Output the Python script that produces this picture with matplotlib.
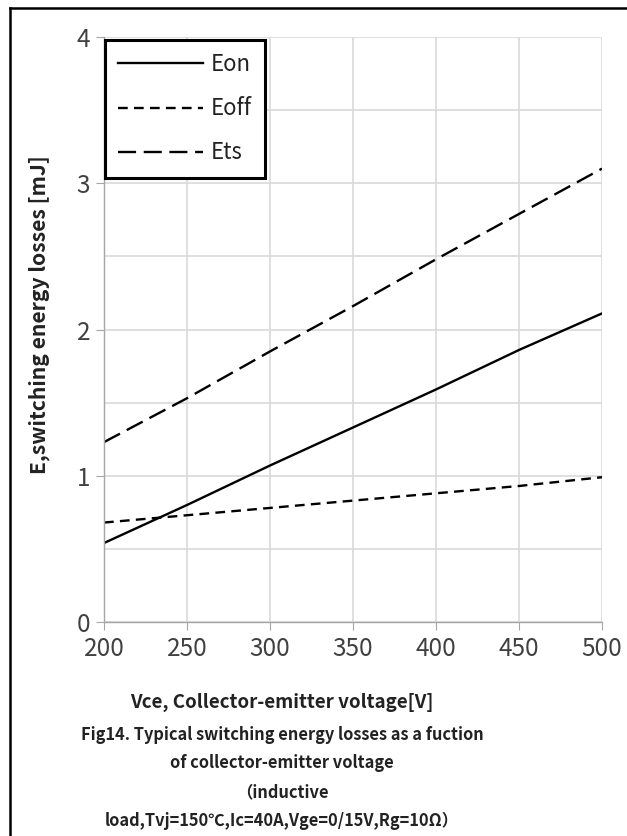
import matplotlib.pyplot as plt
from matplotlib.lines import Line2D
from matplotlib.ticker import MultipleLocator

plt.rcParams['font.family'] = ['Noto Sans CJK SC', 'DejaVu Sans']
plt.rcParams['lines.scale_dashes'] = False

# switching losses vs collector-emitter voltage
vce = [200, 250, 300, 350, 400, 450, 500]
eon = [0.54, 0.80, 1.07, 1.33, 1.59, 1.86, 2.11]
eoff = [0.68, 0.73, 0.78, 0.83, 0.88, 0.93, 0.99]
ets = [1.23, 1.53, 1.85, 2.16, 2.48, 2.79, 3.10]

fig = plt.figure(figsize=(6.27, 8.36), dpi=100)
ax = fig.add_axes([104/627, 1 - 622/836, 498/627, 585/836])

ax.plot(vce, eon, color='black', lw=1.7, label='Eon')
ax.plot(vce, eoff, color='black', lw=1.7, dashes=(7, 4.5), label='Eoff')
ax.plot(vce, ets, color='black', lw=1.7, dashes=(13, 5.5), label='Ets')

ax.set_xlim(200, 500)
ax.set_ylim(0, 4)
ax.xaxis.set_major_locator(MultipleLocator(50))
ax.yaxis.set_major_locator(MultipleLocator(1))
ax.yaxis.set_minor_locator(MultipleLocator(0.5))
ax.grid(True, which='both', color='#d9d9d9', lw=1.2)
ax.set_axisbelow(True)
for s in ['top', 'right']:
    ax.spines[s].set_visible(False)
for s in ['left', 'bottom']:
    ax.spines[s].set_color('#a6a6a6')
    ax.spines[s].set_linewidth(1.0)
ax.tick_params(which='major', direction='out', length=6, color='#a6a6a6',
               labelsize=17.5, labelcolor='#404040', pad=4)
ax.tick_params(which='minor', length=0)

ax.set_ylabel('E,switching energy losses [mJ]', fontsize=15.2, fontweight='bold',
              color='#222222')
ax.yaxis.set_label_coords(-0.108, 0.525)

leg = ax.legend(loc='upper left', bbox_to_anchor=(0.002, 0.995), borderaxespad=0,
                fontsize=16, handlelength=3.8, handletextpad=0.35, labelspacing=0.95,
                borderpad=0.6, fancybox=False, framealpha=1)
leg.get_frame().set_edgecolor('black')
leg.get_frame().set_linewidth(2.2)
for t in leg.get_texts():
    t.set_color('#222222')

cx = 282 / 627
fig.text(cx, 1 - 702/836, 'Vce, Collector-emitter voltage[V]', ha='center', va='center',
         fontsize=13.5, fontweight='bold', color='#222222')
caption = ['Fig14. Typical switching energy losses as a fuction',
           'of collector-emitter voltage',
           '（inductive',
           'load,Tvj=150℃,Ic=40A,Vge=0/15V,Rg=10Ω）']
for i, line in enumerate(caption):
    fig.text(cx, 1 - (735 + 28.5 * i)/836, line, ha='center', va='center',
             fontsize=11.8, fontweight='bold', color='#222222')

# outer frame
fig.add_artist(Line2D([10/627, 10/627], [0, 1 - 8/836], color='black', lw=1.8))
fig.add_artist(Line2D([10/627, 1], [1 - 8/836, 1 - 8/836], color='black', lw=1.8))

fig.savefig('out.png', dpi=100)
